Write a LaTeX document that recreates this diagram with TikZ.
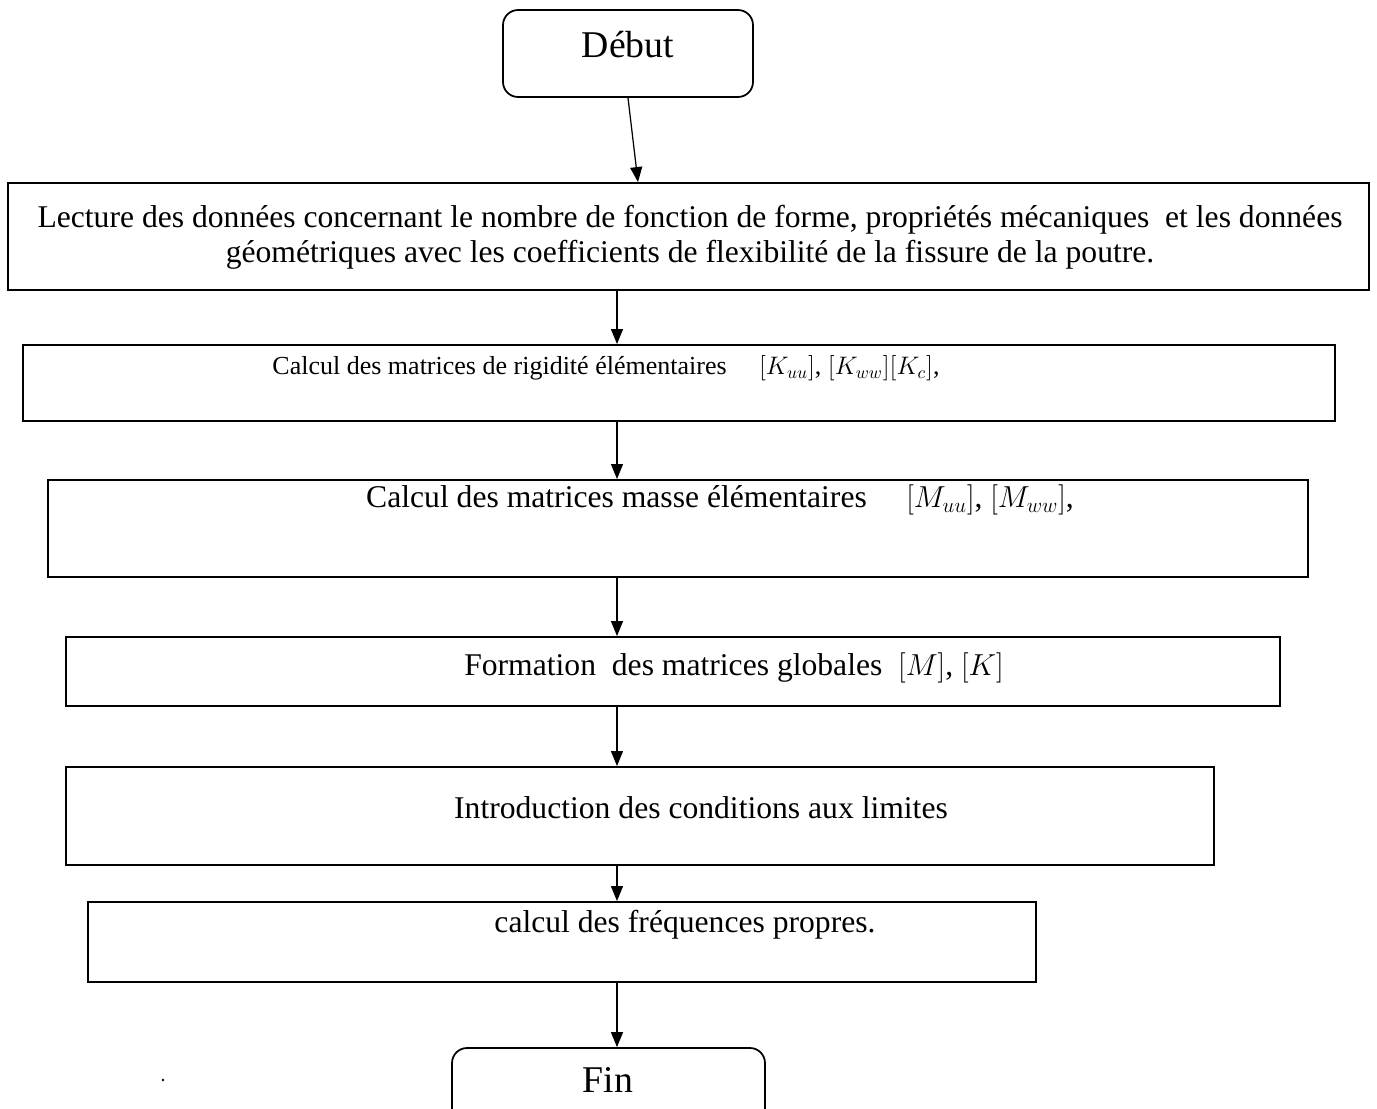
\documentclass[tikz,border=0pt]{standalone}
\usepackage{fontspec}
\setmainfont{Liberation Serif}
\usetikzlibrary{arrows.meta,positioning,calc}

\tikzset{
  term/.style={draw, line width=1pt, rounded corners=0.3cm, inner sep=0pt},
  stage/.style={draw, line width=1.1pt, inner sep=0pt},
  caption/.style={inner sep=0pt, font=\fontsize{18}{20}\selectfont},
  flow/.style={-{Triangle[length=0.3cm, width=0.24cm]}, line width=0.7pt}
}

\begin{document}
\begin{tikzpicture}[x=0.02cm, y=-0.02cm]
    \useasboundingbox (0,0) rectangle (1377,1109);
    \coordinate (axis) at (617,0);
    \coordinate (axis0) at (638,0);
    % boxes
    \node[term, minimum width=5cm, minimum height=1.74cm] (debut) at (628,53.5) {};
    \node[stage, minimum width=27.22cm, minimum height=2.14cm] (lecture) at (688.5,236.5) {};
    \node[stage, minimum width=26.24cm, minimum height=1.52cm] (rigid) at (679,383) {};
    \node[stage, minimum width=25.2cm, minimum height=1.94cm] (masse) at (678,528.5) {};
    \node[stage, minimum width=24.28cm, minimum height=1.38cm] (global) at (673,671.5) {};
    \node[stage, minimum width=22.96cm, minimum height=1.96cm] (limites) at (640,816) {};
    \node[stage, minimum width=18.96cm, minimum height=1.6cm] (freq) at (562,942) {};
    \node[term, minimum width=6.26cm, minimum height=1.56cm] (fin) at (608.5,1087) {};
    % texts
    \node[inner sep=0pt, font=\fontsize{21.5}{25}\selectfont] (tdebut) at (628,45) {Début};
    \node[caption, align=center] (tlecture) at (690,237.5) {Lecture des données concernant le nombre de fonction de forme, propriétés mécaniques\ \ et les données\\géométriques avec les coefficients de flexibilité de la fissure de la poutre.};
    \node[caption, font=\fontsize{14.8}{18}\selectfont] (trigid) at (606,368) {Calcul des matrices de rigidité élémentaires\quad\ $[K_{uu}]$, $[K_{ww}][K_c]$,};
    \node[caption] (tmasse) at (720,500) {Calcul des matrices masse élémentaires\quad\ $[M_{uu}]$, $[M_{ww}]$,};
    \node[caption] (tglobal) at (734,668) {Formation\ \ des matrices globales\ \ $[M]$, $[K]$};
    \node[caption] (tlimites) at (701,808) {Introduction des conditions aux limites};
    \node[caption] (tfreq) at (685,925) {calcul des fréquences propres.};
    \node[inner sep=0pt, font=\fontsize{21.5}{25}\selectfont] (tfin) at (608,1080) {Fin};
    \fill (163,1080) circle (1.3);
    % arrows
    \draw[flow] (debut.south) -- (lecture.north -| axis0);
    \draw[flow] (lecture.south -| axis) -- (rigid.north -| axis);
    \draw[flow] (rigid.south -| axis) -- (masse.north -| axis);
    \draw[flow] (masse.south -| axis) -- (global.north -| axis);
    \draw[flow] (global.south -| axis) -- (limites.north -| axis);
    \draw[flow] (limites.south -| axis) -- (freq.north -| axis);
    \draw[flow] (freq.south -| axis) -- (fin.north -| axis);
\end{tikzpicture}
\end{document}
